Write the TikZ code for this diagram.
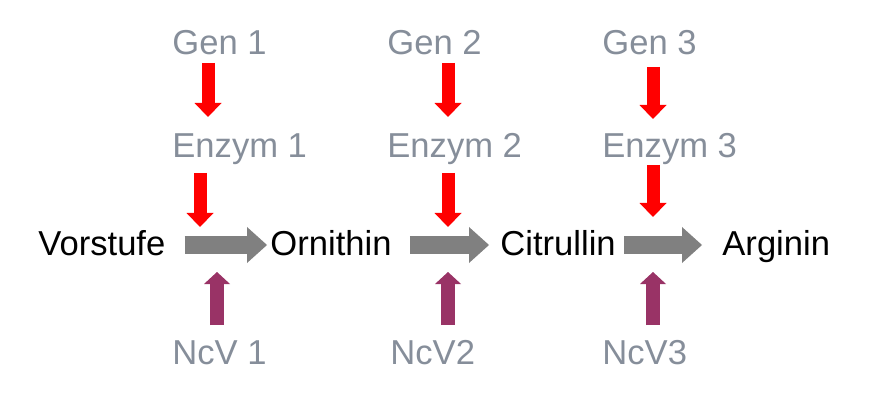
\documentclass[tikz,border=0pt]{standalone}
\usepackage{fontspec}
\setmainfont{Liberation Sans}
\usepackage{tikz}
\usetikzlibrary{arrows.meta, positioning, calc}
\definecolor{pathgrey}{HTML}{808080}
\definecolor{labelgrey}{HTML}{868E9A}
\definecolor{ncvpurple}{HTML}{993366}
\definecolor{genred}{HTML}{FF0000}

\begin{document}
\begin{tikzpicture}[x=0.5pt, y=-0.5pt,
  txt/.style={anchor=base west, inner sep=0pt, font=\fontsize{17.3}{20}\selectfont},
  gene/.style={txt, text=labelgrey},
  stoff/.style={txt, text=black},
  redarrow/.style={genred, line width=6.5pt,
    -{Triangle[width=13.5pt, length=7pt, line width=0pt]}},
  purplearrow/.style={ncvpurple, line width=7pt,
    -{Triangle[width=13pt, length=6pt, line width=0pt]}},
  greyarrow/.style={pathgrey, line width=8.5pt,
    -{Triangle[width=18pt, length=10pt, line width=0pt]}}]
  \useasboundingbox (0,0) rectangle (879,401);
  % Gene, Enzyme, Mutanten
  \node[gene] (gen1) at (172,55) {Gen 1};
  \node[gene] (gen2) at (387,55) {Gen 2};
  \node[gene] (gen3) at (602,55) {Gen 3};
  \node[gene] (enz1) at (172,158) {Enzym 1};
  \node[gene] (enz2) at (387,158) {Enzym 2};
  \node[gene] (enz3) at (602,158) {Enzym 3};
  \node[gene] (ncv1) at (172,364) {NcV 1};
  \node[gene] (ncv2) at (390,364) {NcV2};
  \node[gene] (ncv3) at (602,364) {NcV3};
  % Stoffwechselweg
  \node[stoff] (vor) at (38,256) {Vorstufe};
  \node[stoff] (orn) at (270,256) {Ornithin};
  \node[stoff] (cit) at (500,256) {Citrullin};
  \node[stoff] (arg) at (722,256) {Arginin};
  % Reaktionen
  \draw[greyarrow] ($(vor.base east)+(19,-11)$) -- ($(orn.base west)+(-3,-11)$);
  \draw[greyarrow] ($(orn.base east)+(18,-11)$) -- ($(cit.base west)+(-11,-11)$);
  \draw[greyarrow] ($(cit.base east)+(8,-11)$) -- ($(arg.base west)+(-20,-11)$);
  % Gen -> Enzym
  \draw[redarrow] ($(gen1.base west)+(36,8)$) -- ++(0,54);
  \draw[redarrow] ($(gen2.base west)+(61,8)$) -- ++(0,54);
  \draw[redarrow] ($(gen3.base west)+(51,12)$) -- ++(0,52);
  % Enzym -> Reaktion
  \draw[redarrow] ($(enz1.base west)+(28,15)$) -- ++(0,54);
  \draw[redarrow] ($(enz2.base west)+(61,15)$) -- ++(0,54);
  \draw[redarrow] ($(enz3.base west)+(51,7)$) -- ++(0,52);
  % Mutanten
  \draw[purplearrow] ($(ncv1.base west)+(45,-39)$) -- ++(0,-53);
  \draw[purplearrow] ($(ncv2.base west)+(58,-39)$) -- ++(0,-53);
  \draw[purplearrow] ($(ncv3.base west)+(51,-39)$) -- ++(0,-53);
\end{tikzpicture}
\end{document}
